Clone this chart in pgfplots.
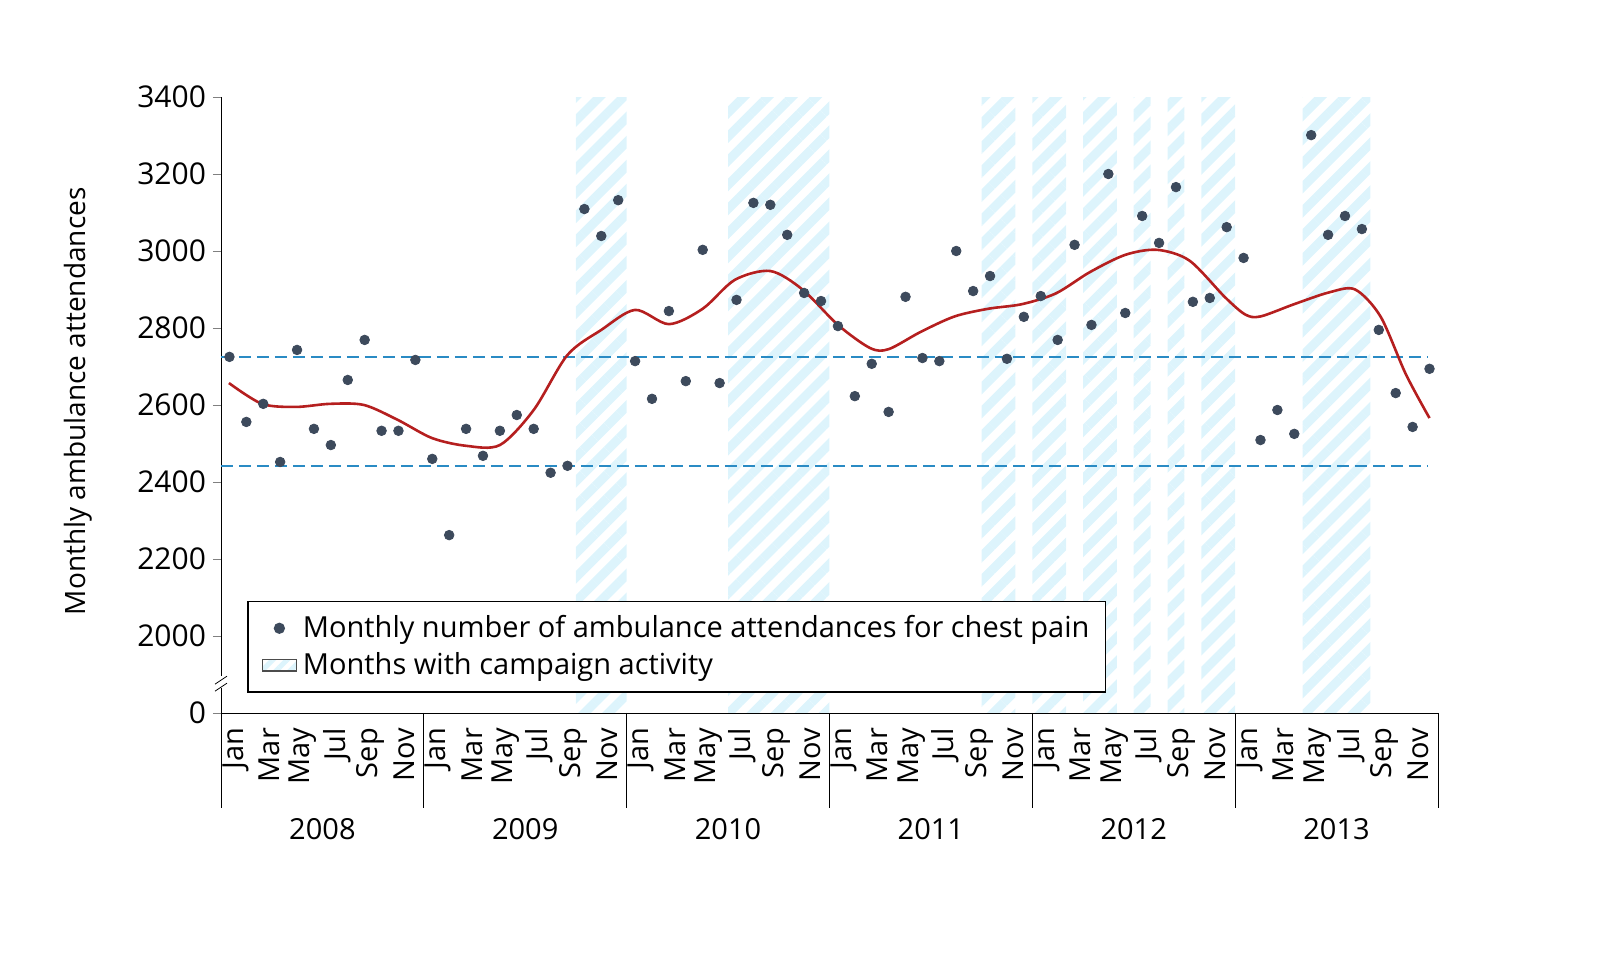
\documentclass[border=0pt]{standalone}
\usepackage{pgfplots}
\pgfplotsset{compat=1.18}
\usepackage{fontspec}
\setmainfont{Open Sans}
\usetikzlibrary{patterns.meta}
\definecolor{dotc}{HTML}{3D4A5C}
\definecolor{redc}{HTML}{B51F1F}
\definecolor{dashc}{HTML}{2A8BC4}
\definecolor{hatc}{HTML}{DDF4FC}
\tikzset{hatch/.style={pattern={Lines[angle=45,distance=8.5pt,line width=4.5pt]},pattern color=hatc,draw=none}}
\begin{document}
\begin{tikzpicture}
\begin{axis}[
 scale only axis, width=608.5pt, height=308pt,
 xmin=0, xmax=72, ymin=1800, ymax=3400,
 axis x line*=bottom, axis y line*=left,
 clip=false,
 font=\fontsize{14}{16}\selectfont,
 ytick={1800,2000,2200,2400,2600,2800,3000,3200,3400},
 yticklabels={0,2000,2200,2400,2600,2800,3000,3200,3400},
 tick align=outside, major tick length=4pt,
 y tick label style={font=\fontsize{15}{17}\selectfont},
 xtick={0.5,2.5,...,70.5},
 xticklabels={Jan,Mar,May,Jul,Sep,Nov,Jan,Mar,May,Jul,Sep,Nov,Jan,Mar,May,Jul,Sep,Nov,Jan,Mar,May,Jul,Sep,Nov,Jan,Mar,May,Jul,Sep,Nov,Jan,Mar,May,Jul,Sep,Nov},
 x tick label style={rotate=90,anchor=east,yshift=-3pt,font=\fontsize{14.5}{16}\selectfont},
 xtick style={draw=none},
 ylabel={Monthly ambulance attendances},
 ylabel style={at={(axis description cs:-0.1175,0.506)},anchor=center,font=\fontsize{14}{16}\selectfont},
 legend style={at={(axis description cs:0.0214,0.182)},anchor=north west,draw=black,thick,inner xsep=6pt,inner ysep=5pt,font=\fontsize{14.5}{17}\selectfont,row sep=2pt},
 legend cell align=left,
]
\addlegendimage{only marks,mark=*,mark size=2.4pt,color=dotc}
\addlegendentry{Monthly number of ambulance attendances for chest pain}
\addlegendimage{area legend,pattern={Lines[angle=45,distance=5pt,line width=2.5pt]},pattern color=hatc,draw=black!70}
\addlegendentry{Months with campaign activity}
\addplot[hatch,forget plot] coordinates {(21,1800)(24,1800)(24,3400)(21,3400)} -- cycle;
\addplot[hatch,forget plot] coordinates {(30,1800)(36,1800)(36,3400)(30,3400)} -- cycle;
\addplot[hatch,forget plot] coordinates {(45,1800)(47,1800)(47,3400)(45,3400)} -- cycle;
\addplot[hatch,forget plot] coordinates {(48,1800)(50,1800)(50,3400)(48,3400)} -- cycle;
\addplot[hatch,forget plot] coordinates {(51,1800)(53,1800)(53,3400)(51,3400)} -- cycle;
\addplot[hatch,forget plot] coordinates {(54,1800)(55,1800)(55,3400)(54,3400)} -- cycle;
\addplot[hatch,forget plot] coordinates {(56,1800)(57,1800)(57,3400)(56,3400)} -- cycle;
\addplot[hatch,forget plot] coordinates {(58,1800)(60,1800)(60,3400)(58,3400)} -- cycle;
\addplot[hatch,forget plot] coordinates {(64,1800)(68,1800)(68,3400)(64,3400)} -- cycle;
\addplot[dashc,dashed,thick,dash pattern=on 6pt off 3pt,forget plot] coordinates {(0,2725)(71.4,2725)};
\addplot[dashc,dashed,thick,dash pattern=on 6pt off 3pt,forget plot] coordinates {(0,2442)(71.4,2442)};
\addplot[redc,line width=1.3pt,smooth,forget plot] coordinates {
(0.47,2657)(2.43,2603)(4.44,2595)(6.45,2603)(8.46,2600)(10.47,2561)(12.49,2514)(14.5,2494)(16.5,2496)(18.5,2587)(20.5,2730)(22.5,2795)(24.5,2847)(26.5,2810)(28.5,2850)(30.4,2925)(32.5,2948)(34.4,2900)(36.5,2808)(38.4,2748)(39.5,2745)(41.4,2790)(43.4,2830)(45.4,2850)(47.4,2862)(49.4,2890)(51.4,2945)(53.5,2990)(55.4,3003)(57.3,2975)(59.4,2880)(60.6,2835)(61.5,2830)(63.5,2862)(65.6,2893)(67.1,2900)(68.6,2830)(70.1,2680)(71.5,2566)};
\addplot[only marks,mark=*,mark size=2.4pt,color=dotc,forget plot] table[x expr=\coordindex+0.5,y index=0] {
y
2725
2556
2603
2452
2743
2538
2496
2665
2769
2533
2533
2717
2460
2262
2538
2468
2533
2574
2538
2424
2442
3109
3039
3132
2714
2616
2844
2662
3003
2657
2873
3125
3120
3042
2891
2870
2805
2623
2707
2582
2881
2722
2714
3000
2896
2935
2720
2829
2883
2769
3016
2808
3200
2839
3091
3021
3166
2868
2878
3062
2982
2509
2587
2525
3301
3042
3091
3057
2795
2631
2543
2694
};
\foreach \k/\yr in {0/2008,12/2009,24/2010,36/2011,48/2012,60/2013}{
 \edef\tmp{\noexpand\draw (axis cs:\k,1800) -- ([yshift=-47.5pt]axis cs:\k,1800);
 \noexpand\node[anchor=north] at ([yshift=-49pt]axis cs:\k+6,1800) {\noexpand\fontsize{14.5}{16}\noexpand\selectfont \yr};}
 \tmp
}
\draw (axis cs:72,1800) -- ([yshift=-47.5pt]axis cs:72,1800);
\fill[white] ([yshift=-3pt]axis cs:0,1880) rectangle ([xshift=2pt,yshift=3pt]axis cs:0,1880);
\draw ([xshift=-3pt,yshift=-4.5pt]axis cs:0,1880) -- ++(6pt,4pt);
\draw ([xshift=-3pt,yshift=-1pt]axis cs:0,1880) -- ++(6pt,4pt);
\path (rel axis cs:-0.1816,-0.4026) rectangle (rel axis cs:1.1496,1.1575);
\end{axis}
\end{tikzpicture}
\end{document}
